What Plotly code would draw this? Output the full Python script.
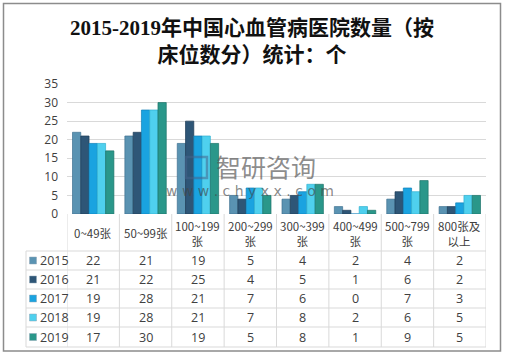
import plotly.graph_objects as go

categories = ["0~49张", "50~99张", "100~199<br>张", "200~299<br>张", "300~399<br>张",
              "400~499<br>张", "500~799<br>张", "800张及<br>以上"]
years = ["2015", "2016", "2017", "2018", "2019"]
values = {
    "2015": [22, 21, 19, 5, 4, 2, 4, 2],
    "2016": [21, 22, 25, 4, 5, 1, 6, 2],
    "2017": [19, 28, 21, 7, 6, 0, 7, 3],
    "2018": [19, 28, 21, 7, 8, 2, 6, 5],
    "2019": [17, 30, 19, 5, 8, 1, 9, 5],
}
colors = ["#5A93B2", "#2E5677", "#1AA3E0", "#4FD0EE", "#2A978A"]
edge_colors = ["#3F7190", "#1E3C56", "#1080B8", "#30B0D0", "#1C7368"]
y_ticks = [0, 5, 10, 15, 20, 25, 30, 35]

W, H = 505, 357
L, R, T, B = 67, 19, 84, 143
PW, PH = W - L - R, H - T - B


def px(x):
    return (x - L) / PW


def py(y):
    return (H - B - y) / PH


fig = go.Figure()
xs = list(range(len(categories)))
for yr, c, ec in zip(years, colors, edge_colors):
    fig.add_trace(go.Bar(x=xs, y=values[yr], name=yr,
                         marker=dict(color=c, line=dict(color=ec, width=0.7)),
                         showlegend=False, hoverinfo="skip"))

shapes = []
annotations = []
grid_col = "#D9D9D9"
txt_col = "#404040"
num_font = "Open Sans, Noto Sans, sans-serif"

# table horizontal lines
row_lines = [251, 270, 289, 308, 327, 347]
for yy in row_lines:
    shapes.append(dict(type="line", xref="paper", yref="paper", x0=px(26), x1=1, y0=py(yy), y1=py(yy),
                       line=dict(color=grid_col, width=1)))
shapes.append(dict(type="line", xref="paper", yref="paper", x0=px(26), x1=px(26), y0=py(251), y1=py(347),
                   line=dict(color=grid_col, width=1)))
for i in range(len(categories) + 1):
    shapes.append(dict(type="line", xref="x", yref="paper", x0=i - 0.5, x1=i - 0.5, y0=0, y1=py(347),
                       line=dict(color=grid_col, width=1)))

# header cells
for i, cat in enumerate(categories):
    annotations.append(dict(x=i, y=py(233), xref="x", yref="paper", text=cat, showarrow=False,
                            font=dict(size=11.5, color=txt_col, family="Noto Sans CJK SC, sans-serif"),
                            xanchor="center", yanchor="middle"))
# rows
row_centers = [260.5, 279.5, 298.5, 317.5, 337]
for r, (yr, c) in enumerate(zip(years, colors)):
    yc = py(row_centers[r])
    shapes.append(dict(type="rect", xref="paper", yref="paper", x0=px(29.5), x1=px(36.5),
                       y0=yc - 3.5 / PH, y1=yc + 3.5 / PH, fillcolor=c, line=dict(color="#8FA5B5", width=0.5)))
    annotations.append(dict(x=px(37.5), y=yc, xref="paper", yref="paper", text=yr, showarrow=False,
                            xanchor="left", yanchor="middle",
                            font=dict(size=12.5, color=txt_col, family=num_font)))
    for i, v in enumerate(values[yr]):
        annotations.append(dict(x=i, y=yc, xref="x", yref="paper", text=str(v), showarrow=False,
                                xanchor="center", yanchor="middle",
                                font=dict(size=12.5, color=txt_col, family=num_font)))

# outer border
shapes.append(dict(type="rect", xref="paper", yref="paper", x0=px(3.5), x1=px(500.5), y0=py(3.5), y1=py(351),
                   line=dict(color="#8C8C8C", width=1.5), fillcolor="rgba(0,0,0,0)"))

# title
annotations.append(dict(x=px(252), y=py(41), xref="paper", yref="paper",
                        text="<b>2015-2019年中国心血管病医院数量（按<br>床位数分）统计：个</b>", showarrow=False,
                        font=dict(size=21, color="#111111", family="Liberation Serif, Noto Sans CJK SC, serif"),
                        align="center", xanchor="center", yanchor="middle"))

# watermark
shapes.append(dict(type="rect", xref="paper", yref="paper", x0=px(186), x1=px(207), y0=py(178), y1=py(157),
                   line=dict(color="rgba(70,100,140,0.55)", width=2.5), fillcolor="rgba(0,0,0,0)"))
annotations.append(dict(x=px(266), y=py(166), xref="paper", yref="paper", text="智研咨询", showarrow=False,
                        xanchor="center", yanchor="middle",
                        font=dict(size=25, color="rgba(90,90,90,0.7)", family="Noto Sans CJK SC, sans-serif")))
annotations.append(dict(x=px(250), y=py(191), xref="paper", yref="paper", text="w w w . c h y x x . c o m",
                        showarrow=False, xanchor="center", yanchor="middle",
                        font=dict(size=14, color="rgba(70,70,70,0.65)", family="DejaVu Sans, sans-serif")))

fig.update_layout(
    width=W, height=H,
    margin=dict(l=L, r=R, t=T, b=B, autoexpand=False),
    plot_bgcolor="white", paper_bgcolor="white",
    barmode="group", bargap=0.21, bargroupgap=0,
    hovermode=False,
    xaxis=dict(range=[-0.5, len(categories) - 0.5], showticklabels=False, showgrid=False,
               zeroline=False, showline=False, ticks="", automargin=False),
    yaxis=dict(range=[0, 35], tickvals=y_ticks, showgrid=True, gridcolor=grid_col, gridwidth=1,
               zeroline=False, showline=False, ticks="", automargin=False, ticklabelstandoff=8,
               tickfont=dict(size=12, color="#404040", family=num_font)),
    shapes=shapes,
    annotations=annotations,
)

fig.write_html("out.html", config={"displayModeBar": False},
               post_script="document.body.style.margin='0';document.body.style.padding='0';")
